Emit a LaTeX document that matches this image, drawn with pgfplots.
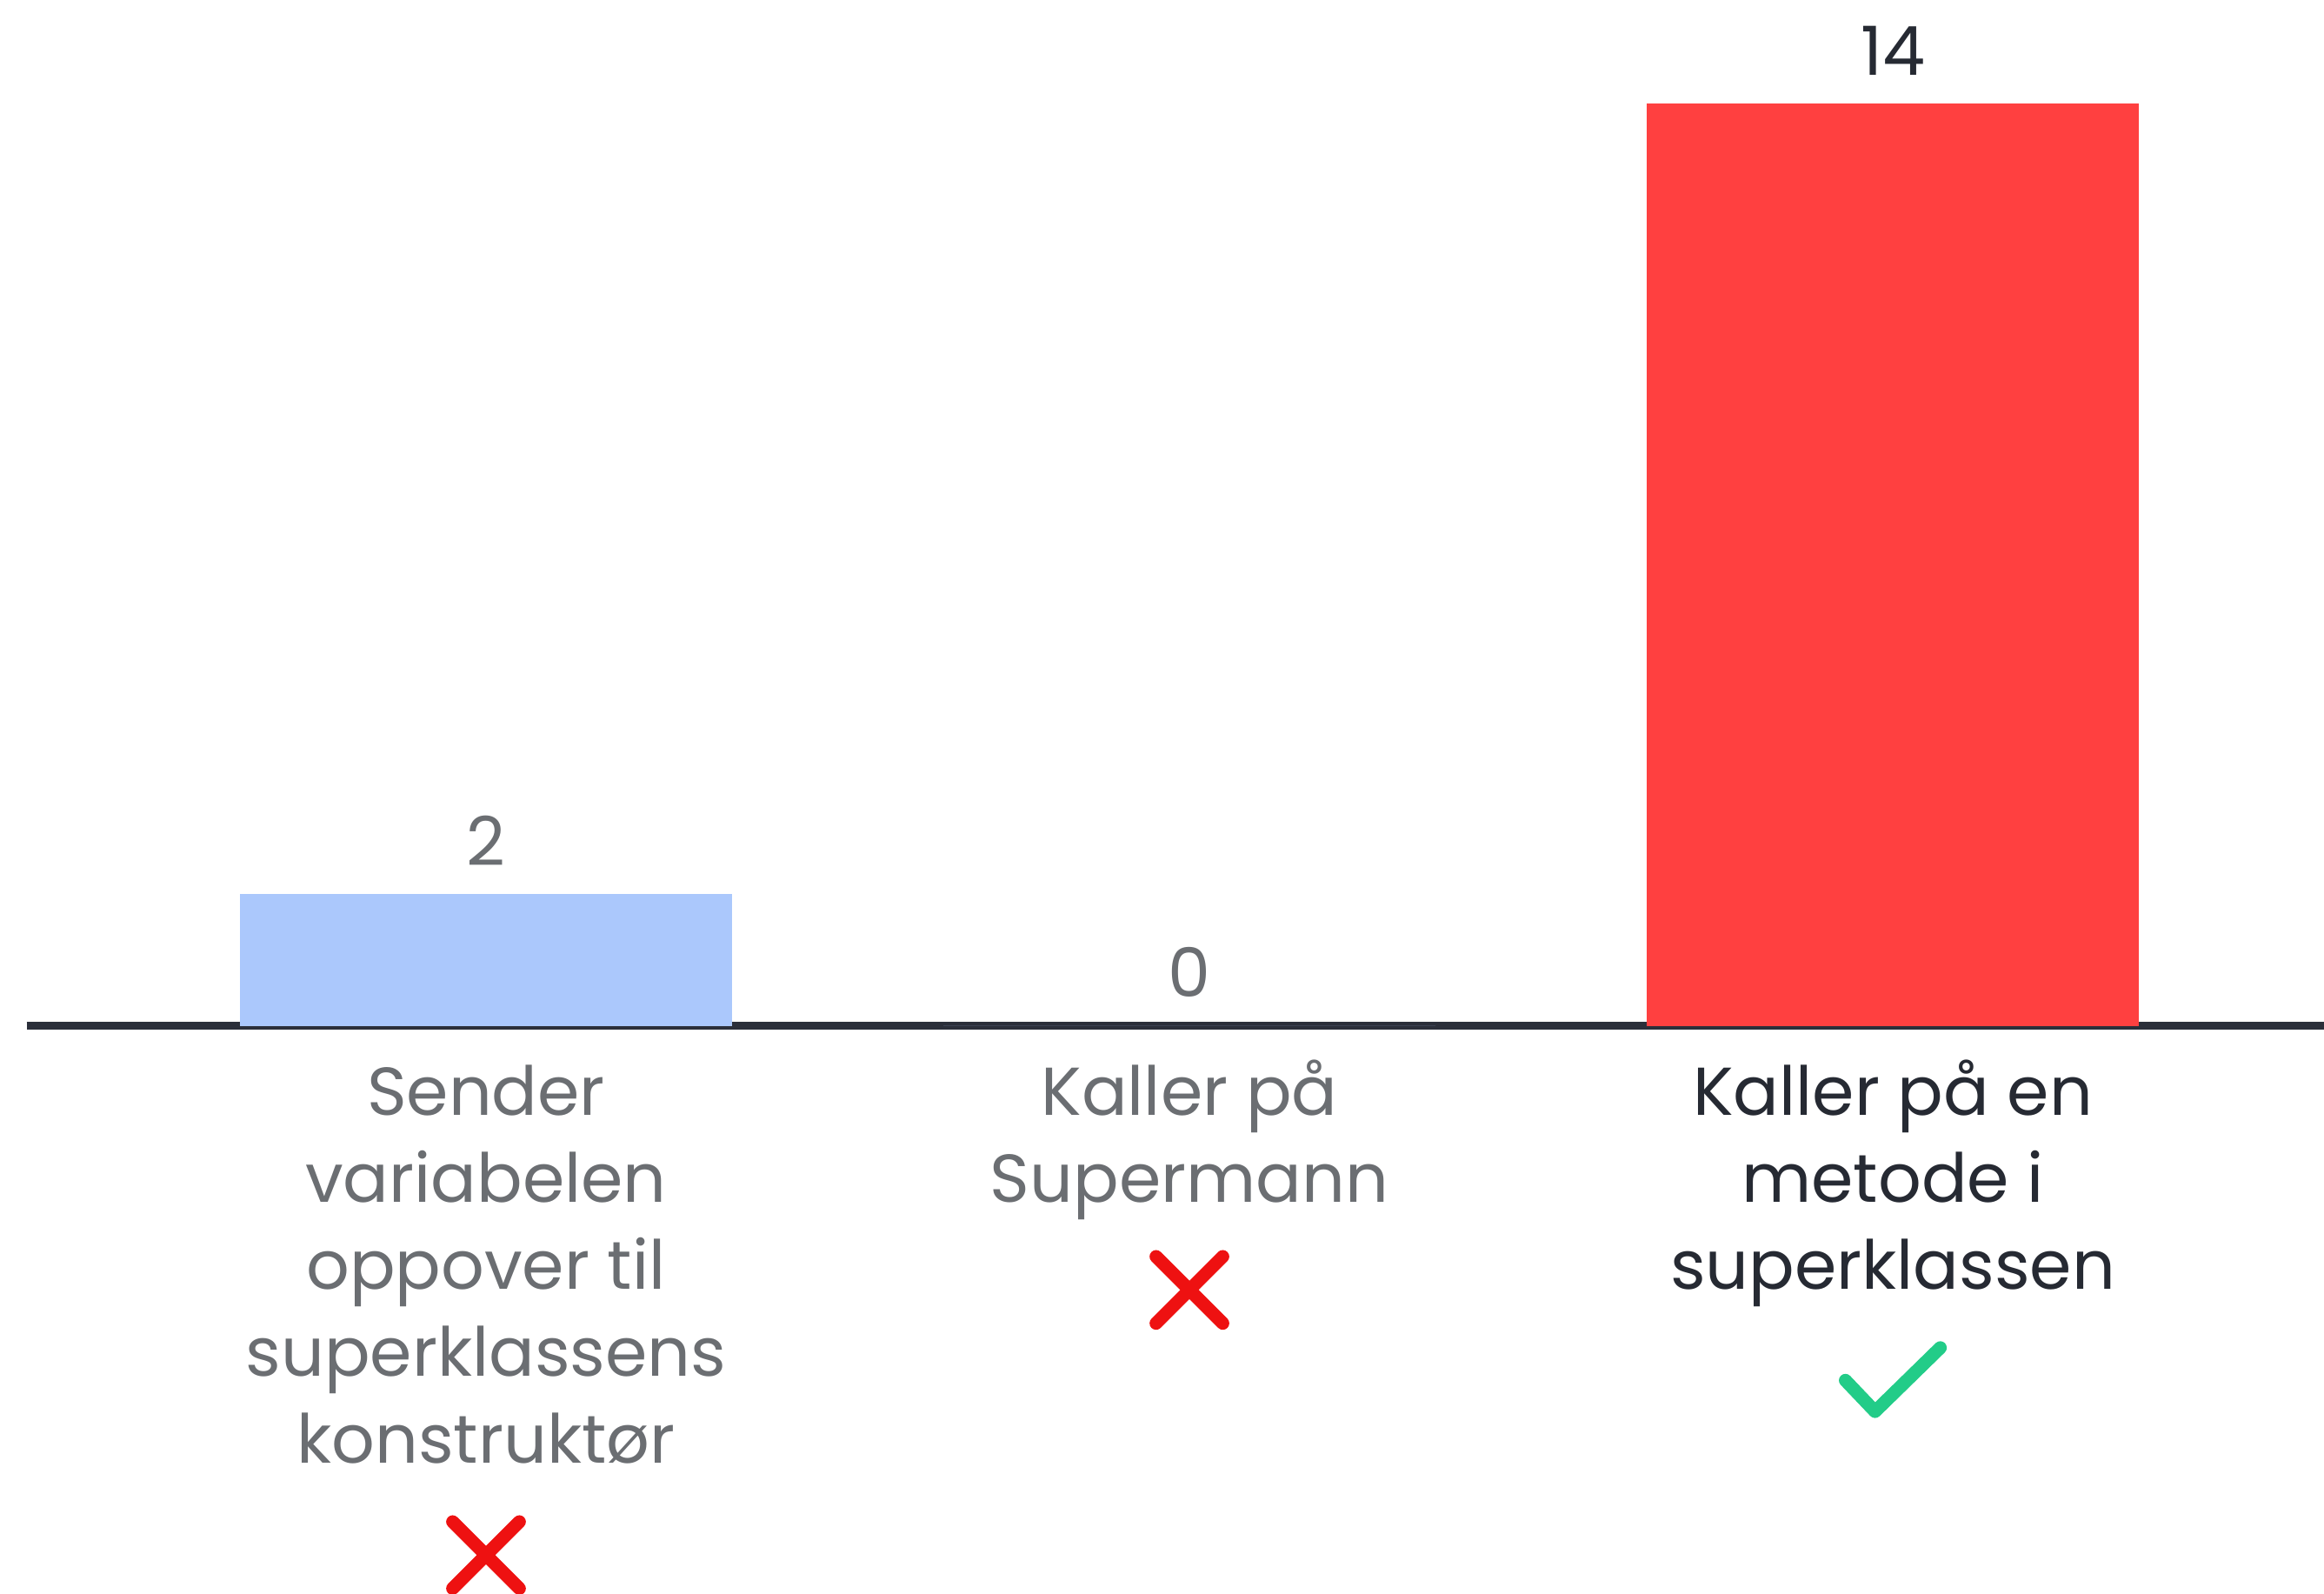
\documentclass[border=0pt]{standalone}
\usepackage{pgfplots}
\pgfplotsset{compat=1.18}
\usepackage{fontspec}
\setmainfont{Poppins}

\definecolor{barblue}{HTML}{ABC8FC}
\definecolor{barred}{HTML}{FF4040}
\definecolor{txtgray}{HTML}{6B6E72}
\definecolor{txtdark}{HTML}{262A33}
\definecolor{axisdark}{HTML}{2B2F3A}
\definecolor{xred}{HTML}{EE1111}
\definecolor{cgreen}{HTML}{22CC88}

% small drawn glyphs under the labels
\newcommand{\xmark}{\tikz\draw[xred, line width=2.5pt, line cap=round] (0cm,0cm)--(0.45cm,0.45cm) (0cm,0.45cm)--(0.45cm,0cm);}
\newcommand{\cmark}{\tikz\draw[cgreen, line width=2.5pt, line cap=round, line join=round] (0cm,0.23cm)--(0.2cm,0.02cm)--(0.64cm,0.45cm);}

\begin{document}
\begin{tikzpicture}
\begin{axis}[
    scale only axis,
    width=15.5cm, height=10.75cm,
    xmin=-0.653, xmax=2.613,
    ymin=-8.62, ymax=15.575,
    axis x line=middle, axis y line=none,
    axis line style={-, line width=1.4pt, color=axisdark},
    xtick={0,1,2}, ytick=\empty,
    major tick length=0pt,
    xticklabels={
        {\color{txtgray}\begin{tabular}{@{}c@{}}Sender\\variabelen\\oppover til\\superklassens\\konstruktør\\[5pt]\xmark\end{tabular}},
        {\color{txtgray}\begin{tabular}{@{}c@{}}Kaller på\\Supermann\\[4.2pt]\xmark\end{tabular}},
        {\color{txtdark}\begin{tabular}{@{}c@{}}Kaller på en\\metode i\\superklassen\\[5pt]\cmark\end{tabular}}
    },
    xticklabel style={anchor=north, yshift=-1.9pt,
        font=\fontsize{13}{16.7}\selectfont},
    ybar, bar width=3.32cm, bar shift=0pt,
    nodes near coords,
    nodes near coords style={font=\fontsize{13}{16}\selectfont, yshift=2pt,
        /pgf/number format/assume math mode=true},
    clip=false,
]
\addplot[fill=barblue, draw=none, nodes near coords style={color=txtgray}] coordinates {(0,2)};
\addplot[fill=barblue, draw=none, nodes near coords style={color=txtgray}] coordinates {(1,0)};
\addplot[fill=barred, draw=none, nodes near coords style={color=txtdark}] coordinates {(2,14)};
\end{axis}
\pgfresetboundingbox
\path ([xshift=-0.18cm]current axis.south west) rectangle (current axis.north east);
\end{tikzpicture}
\end{document}
